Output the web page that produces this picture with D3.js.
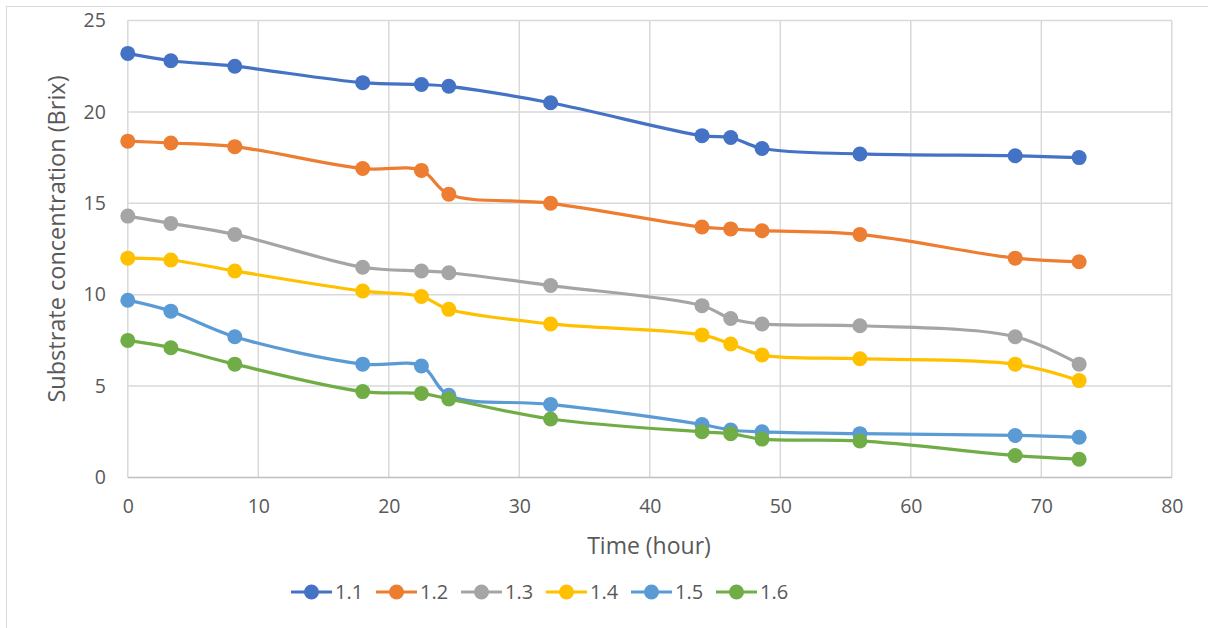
<!DOCTYPE html>
<html><head><meta charset="utf-8">
<script src="https://cdn.jsdelivr.net/npm/d3@7"></script>
<style>body{margin:0;background:#fff;overflow:hidden}svg{display:block}text{font-family:"Open Sans","Noto Sans",sans-serif;fill:#595959}</style>
</head><body><svg id="c" width="1208" height="628"></svg>
<script>
const times = [0, 3.3, 8.2, 18, 22.5, 24.6, 32.4, 44, 46.2, 48.6, 56.1, 68, 72.9];
const seriesNames = ["1.1","1.2","1.3","1.4","1.5","1.6"];
const s11 = [23.2, 22.8, 22.5, 21.6, 21.5, 21.4, 20.5, 18.7, 18.6, 18.0, 17.7, 17.6, 17.5];
const s12 = [18.4, 18.3, 18.1, 16.9, 16.8, 15.5, 15.0, 13.7, 13.6, 13.5, 13.3, 12.0, 11.8];
const s13 = [14.3, 13.9, 13.3, 11.5, 11.3, 11.2, 10.5, 9.4, 8.7, 8.4, 8.3, 7.7, 6.2];
const s14 = [12.0, 11.9, 11.3, 10.2, 9.9, 9.2, 8.4, 7.8, 7.3, 6.7, 6.5, 6.2, 5.3];
const s15 = [9.7, 9.1, 7.7, 6.2, 6.1, 4.5, 4.0, 2.9, 2.6, 2.5, 2.4, 2.3, 2.2];
const s16 = [7.5, 7.1, 6.2, 4.7, 4.6, 4.3, 3.2, 2.5, 2.4, 2.1, 2.0, 1.2, 1.0];
const colors = ["#4472C4","#ED7D31","#A5A5A5","#FFC000","#5B9BD5","#70AD47"];
const xTicks = [0,10,20,30,40,50,60,70,80];
const yTicks = [0,5,10,15,20,25];
const xTitle = "Time (hour)";
const yTitle = "Substrate concentration (Brix)";

const allSeries = [s11,s12,s13,s14,s15,s16];
const svg = d3.select("#c");
svg.append("rect").attr("x",6.5).attr("y",6.5).attr("width",1220).attr("height",640)
  .attr("fill","#fff").attr("stroke","#D9D9D9");

const x = d3.scaleLinear().domain([0,80]).range([127.8,1171.8]);
const y = d3.scaleLinear().domain([0,25]).range([477.5,20.5]);

const g = svg.append("g");
g.selectAll(".vg").data(xTicks).join("line")
  .attr("x1",d=>x(d)).attr("x2",d=>x(d)).attr("y1",y(25)).attr("y2",y(0))
  .attr("stroke","#D9D9D9").attr("stroke-width",1.5);
g.selectAll(".hg").data(yTicks).join("line")
  .attr("x1",x(0)).attr("x2",x(80)).attr("y1",d=>y(d)).attr("y2",d=>y(d))
  .attr("stroke",d=>d===0?"#BFBFBF":"#D9D9D9").attr("stroke-width",1.5);

const xa = svg.append("g").attr("transform",`translate(0,${y(0)})`)
  .call(d3.axisBottom(x).tickValues(xTicks).tickSize(0).tickPadding(22));
xa.select(".domain").remove();
xa.selectAll("text").style("font-size","19.5px").attr("fill","#595959");
const ya = svg.append("g").attr("transform",`translate(${x(0)},0)`)
  .call(d3.axisLeft(y).tickValues(yTicks).tickSize(0).tickPadding(22));
ya.select(".domain").remove();
ya.selectAll("text").style("font-size","19.5px").attr("fill","#595959");

svg.append("text").attr("x",649).attr("y",554).attr("text-anchor","middle")
  .style("font-size","23px").text(xTitle);
svg.append("text").attr("transform","translate(65,239) rotate(-90)").attr("text-anchor","middle")
  .style("font-size","23.5px").text(yTitle);

const line = d3.line().x((d,i)=>x(times[i])).y(d=>y(d)).curve(d3.curveCatmullRom.alpha(0.5));
allSeries.forEach((s,k)=>{
  const sg = svg.append("g");
  sg.append("path").attr("d",line(s)).attr("fill","none").attr("stroke",colors[k])
    .attr("stroke-width",3.2).attr("stroke-linecap","round");
  sg.selectAll("circle").data(s).join("circle")
    .attr("cx",(d,i)=>x(times[i])).attr("cy",d=>y(d)).attr("r",7.5).attr("fill",colors[k]);
});

const lg = svg.append("g");
seriesNames.forEach((n,k)=>{
  const lx = 291 + k*85, ly = 592;
  lg.append("line").attr("x1",lx).attr("x2",lx+41).attr("y1",ly).attr("y2",ly)
    .attr("stroke",colors[k]).attr("stroke-width",3.2);
  lg.append("circle").attr("cx",lx+20.5).attr("cy",ly).attr("r",7.5).attr("fill",colors[k]);
  lg.append("text").attr("x",lx+44).attr("y",ly+7).style("font-size","20px").text(n);
});
</script></body></html>
